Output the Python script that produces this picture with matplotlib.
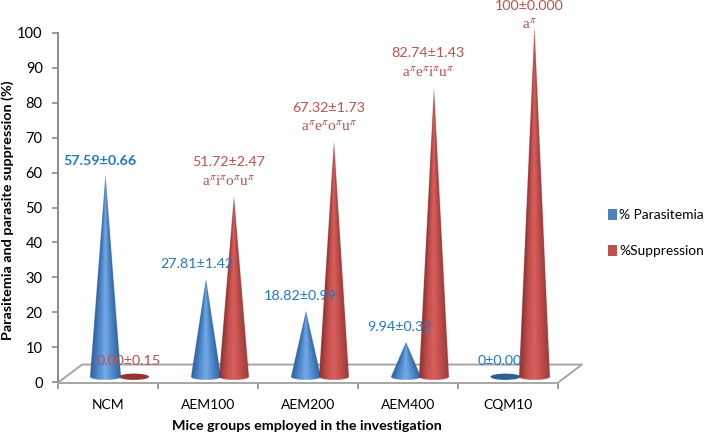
import numpy as np
import matplotlib
matplotlib.use("Agg")
import matplotlib.pyplot as plt
from matplotlib.colors import LinearSegmentedColormap
from matplotlib.patches import Ellipse, Patch
from matplotlib.ticker import FixedLocator, NullFormatter, FixedFormatter

# Group means and the labels printed above them
groups = ["NCM", "AEM100", "AEM200", "AEM400", "CQM10"]
parasitemia = [57.59, 27.81, 18.82, 9.94, 0.0]
suppression = [0.0, 51.72, 67.32, 82.74, 100.0]
parasitemia_labels = ["57.59±0.66", "27.81±1.42", "18.82±0.99", "9.94±0.32", "0±0.00"]
suppression_labels = ["0.00±0.15", "51.72±2.47", "67.32±1.73", "82.74±1.43", "100±0.000"]
significance = ["", r"a$^{\pi}$i$^{\pi}$o$^{\pi}$u$^{\pi}$", r"a$^{\pi}$e$^{\pi}$o$^{\pi}$u$^{\pi}$",
                r"a$^{\pi}$e$^{\pi}$i$^{\pi}$u$^{\pi}$", r"a$^{\pi}$"]
yticks = list(range(0, 101, 10))

# Label offsets from each cone tip, in pixels
parasitemia_offsets = [(-6, 15), (-9, 16), (-5, 15), (-6, 15), (-6, 16)]
suppression_offsets = [(-5, 16), (-5, 34), (-5, 34), (-6, 35), (-5, 22)]
significance_offsets = [(0, 0), (-5, 15), (-5, 15), (-6, 15), (-5, 3)]

BLUE_TEXT = "#1f7ac4"
RED_TEXT = "#c0504d"
GRID_GREY = "#a6a6a6"
AXIS_GREY = "#8c8c8c"

plt.rcParams["font.family"] = "Lato"
plt.rcParams["mathtext.fontset"] = "stix"

blue_map = LinearSegmentedColormap.from_list(
    "blue_cone", ["#2f609f", "#4f87c8", "#72aaea", "#4f86c6", "#2f66a8"])
red_map = LinearSegmentedColormap.from_list(
    "red_cone", ["#8a3230", "#c34f4c", "#d85f5d", "#c04c4a", "#9a3c3a"])

fig = plt.figure(figsize=(7.08, 4.34), dpi=100)
ax = fig.add_axes([58 / 708, (434 - 382) / 434, 500 / 708, 349 / 434])
ax.patch.set_alpha(0)

BASE = 1.5        # cone base height above the front edge of the floor
RADIUS = 0.15     # base half width
RY = 0.9          # base half height
DEPTH_X, DEPTH_Y = 0.24, 5.0


def cone(ax, cx, height, cmap, flat_colour, zorder):
    """Paint a cone as a shaded image whose colour follows the position across its width."""
    if height <= 0:
        ax.add_patch(Ellipse((cx, BASE), 2 * RADIUS, 2 * RY, facecolor=flat_colour,
                             edgecolor="none", zorder=zorder))
        return
    x = np.linspace(cx - RADIUS, cx + RADIUS, 181)
    y = np.linspace(BASE - RY, BASE + height, int((height + RY) * 14) + 2)
    X, Y = np.meshgrid(x, y)
    V = np.clip((Y - BASE) / height, 0, 1)
    half_width = np.maximum(RADIUS * (1 - V), 1e-6)
    U = (X - cx) / half_width
    rgba = cmap((np.clip(U, -1, 1) + 1) / 2)
    above = (Y >= BASE) & (np.abs(U) <= 1)
    below = (Y < BASE) & (((X - cx) / RADIUS) ** 2 + ((Y - BASE) / RY) ** 2 <= 1)
    rgba[..., 3] = (above | below).astype(float)
    ax.imshow(rgba, extent=(x[0], x[-1], y[0], y[-1]), origin="lower", aspect="auto",
              interpolation="antialiased", interpolation_stage="rgba",
              zorder=zorder, clip_on=False)


# Floor of the plot box
floor_x = [0, DEPTH_X, 5 + DEPTH_X, 5]
floor_y = [-0.2, DEPTH_Y, DEPTH_Y, -0.2]
ax.plot(floor_x, floor_y, color=GRID_GREY, lw=1.4, clip_on=False, zorder=1)

for i in range(len(groups)):
    blue_x, red_x = i + 0.475, i + 0.76
    cone(ax, blue_x, parasitemia[i], blue_map, "#2f5f96", 3)
    cone(ax, red_x, suppression[i], red_map, "#953331", 4)

    ax.annotate(parasitemia_labels[i], (blue_x, BASE + parasitemia[i]),
                xytext=parasitemia_offsets[i], textcoords="offset pixels",
                ha="center", va="center", color=BLUE_TEXT, fontsize=10.3,
                fontweight="bold" if i == 0 else "normal", zorder=6,
                annotation_clip=False)
    ax.annotate(suppression_labels[i], (red_x, BASE + suppression[i]),
                xytext=suppression_offsets[i], textcoords="offset pixels",
                ha="center", va="center", color=RED_TEXT, fontsize=10.3, zorder=6,
                annotation_clip=False)
    if significance[i]:
        ax.annotate(significance[i], (red_x, BASE + suppression[i]),
                    xytext=significance_offsets[i], textcoords="offset pixels",
                    ha="center", va="center", color=RED_TEXT, fontsize=11,
                    family="Liberation Serif", zorder=6, annotation_clip=False)

ax.set_xlim(0, 5)
ax.set_ylim(0, 100)

# Axes
for side in ("top", "right"):
    ax.spines[side].set_visible(False)
ax.spines["left"].set_color(AXIS_GREY)
ax.spines["left"].set_linewidth(1.4)
ax.spines["bottom"].set_color(GRID_GREY)
ax.spines["bottom"].set_linewidth(1.4)
ax.spines["bottom"].set_position(("data", -0.2))

ax.set_yticks(yticks)
ax.tick_params(axis="y", length=4, width=1.2, color=AXIS_GREY, labelsize=10.5, pad=7, labelcolor="black")
ax.xaxis.set_major_locator(FixedLocator(range(len(groups) + 1)))
ax.xaxis.set_major_formatter(NullFormatter())
ax.xaxis.set_minor_locator(FixedLocator([i + 0.5 for i in range(len(groups))]))
ax.xaxis.set_minor_formatter(FixedFormatter(groups))
ax.tick_params(axis="x", which="major", length=4, width=1.2, color=AXIS_GREY)
ax.tick_params(axis="x", which="minor", length=0, pad=12, labelsize=10)

fig.text(8 / 708, 1 - 210 / 434, "Parasitemia and parasite suppression (%)", rotation=90,
         ha="center", va="center", fontsize=10.4, fontweight="bold")
fig.text(307 / 708, 1 - 426 / 434, "Mice groups employed in the investigation",
         ha="center", va="center", fontsize=10.3, fontweight="bold")

handles = [Patch(facecolor="#4f81bd", edgecolor="none", label="% Parasitemia"),
           Patch(facecolor="#c0504d", edgecolor="none", label="%Suppression")]
fig.legend(handles=handles, loc="center left", bbox_to_anchor=(608 / 708, 1 - 233 / 434),
           frameon=False, fontsize=9.9, handlelength=0.68, handleheight=0.9,
           handletextpad=0.15, labelspacing=1.7, borderpad=0, borderaxespad=0)

fig.savefig("out.png", dpi=100)
